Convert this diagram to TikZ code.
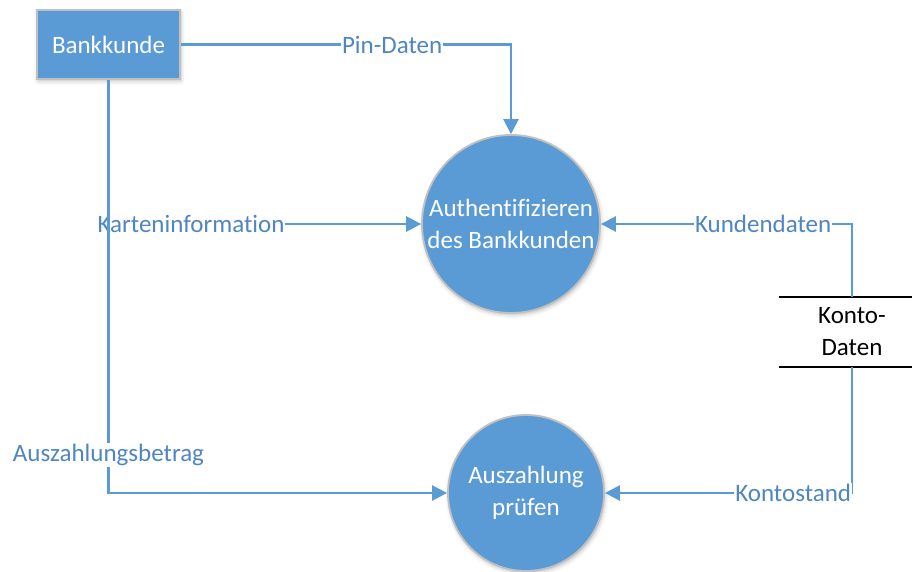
\documentclass[tikz,border=0pt]{standalone}
\usepackage{fontspec}
\setmainfont[Ligatures=NoCommon]{Carlito}
\usetikzlibrary{arrows.meta,shadows.blur}
\definecolor{fillblue}{HTML}{5B9BD5}
\definecolor{lineblue}{HTML}{5B9BD5}
\definecolor{labelblue}{HTML}{4F86C2}
\definecolor{rimgray}{HTML}{C0C0C0}

\begin{document}
\begin{tikzpicture}[x=1pt,y=-1pt,
  every node/.style={font=\fontsize{25}{32}\selectfont},
  softshadow/.style={blur shadow={shadow xshift=1pt, shadow yshift=-2pt,
      shadow blur radius=4pt, shadow opacity=25}},
  entity/.style={draw=rimgray, line width=1.8pt, fill=fillblue, text=white,
      minimum width=143pt, minimum height=69pt, inner sep=0pt, softshadow},
  process/.style={circle, draw=rimgray, line width=1.8pt, fill=fillblue,
      text=white, align=center, inner sep=0pt, softshadow},
  store/.style={align=center, text=black, minimum width=120pt,
      minimum height=70pt, inner sep=0pt},
  storeline/.style={draw=black, line width=1.8pt},
  flow/.style={draw=lineblue, line width=2.6pt,
      -{Triangle[length=15pt,width=15pt]}},
  flowlabel/.style={fill=white, text=labelblue, inner sep=1pt},
]
\useasboundingbox (0,0) rectangle (912,572);

% external entity and processes
\node[entity] (kunde) at (108.5,44.5) {Bankkunde};
\node[process, minimum size=178pt] (auth) at (511,224)
  {Authentifizieren\\des Bankkunden};
\node[process, minimum size=156pt] (pruef) at (526,493)
  {Auszahlung\\prüfen};

% data store
\node[store] (konto) at (852,332) {Konto-\\Daten};
\coordinate (storeTL) at (779,297);
\coordinate (storeTR) at (912,297);
\coordinate (storeBL) at (779,367);
\coordinate (storeBR) at (912,367);
\draw[storeline] (storeTL) -- (storeTR);
\draw[storeline] (storeBL) -- (storeBR);

% data flows
\draw[flow] (kunde.east) -| (auth.north)
  node[flowlabel, pos=0.32] {Pin-Daten};
\draw[flow] (kunde.south) |- (auth.west)
  node[flowlabel, pos=0.632] {Karteninformation};
\draw[flow] (kunde.south) |- (pruef.west)
  node[flowlabel, pos=0.454] {Auszahlungsbetrag};
\draw[flow] (konto.north) |- (auth.east)
  node[flowlabel, pos=0.677] {Kundendaten};
\draw[flow] (konto.south) |- (pruef.east)
  node[flowlabel, pos=0.619] {Kontostand};
\end{tikzpicture}
\end{document}
